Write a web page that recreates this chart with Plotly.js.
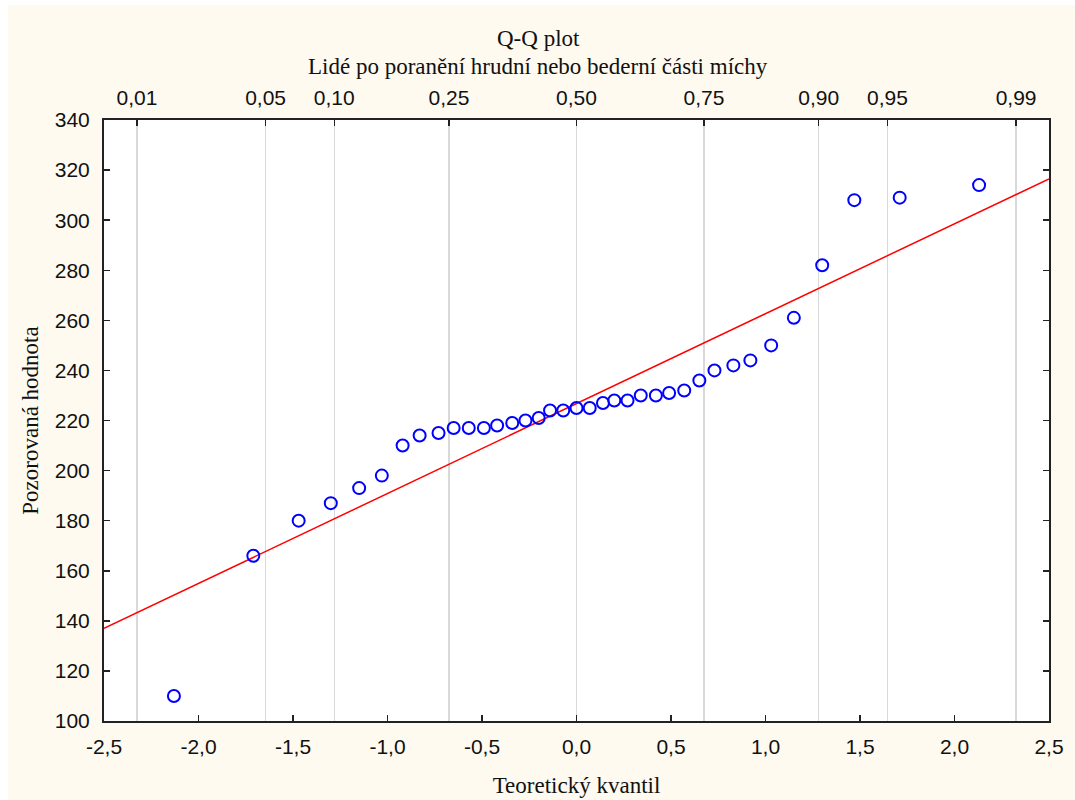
<!DOCTYPE html>
<html>
<head>
<meta charset="utf-8">
<script src="https://cdn.plot.ly/plotly-3.0.1.min.js"></script>
<style>
  html, body { margin: 0; padding: 0; background: #ffffff; }
  #chart { position: absolute; left: 8px; top: 5px; width: 1067px; height: 795px; }
</style>
</head>
<body>
<div id="chart"></div>
<script>
// Theoretical quantiles
const theoreticalQuantile = [-2.13, -1.71, -1.47, -1.30, -1.15, -1.03, -0.92, -0.83, -0.73, -0.65,
  -0.57, -0.49, -0.42, -0.34, -0.27, -0.20, -0.14, -0.07, 0.00, 0.07,
  0.14, 0.20, 0.27, 0.34, 0.42, 0.49, 0.57, 0.65, 0.73, 0.83,
  0.92, 1.03, 1.15, 1.30, 1.47, 1.71, 2.13];
// Observed values
const observedValue = [110, 166, 180, 187, 193, 198, 210, 214, 215, 217,
  217, 217, 218, 219, 220, 221, 224, 224, 225, 225,
  227, 228, 228, 230, 230, 231, 232, 236, 240, 242,
  244, 250, 261, 282, 308, 309, 314];
// Reference line end points
const lineX = [-2.5, 2.5];
const lineY = [137, 316.5];
// Top probability axis
const probTickVals = [-2.326, -1.645, -1.2816, -0.6745, 0, 0.6745, 1.2816, 1.645, 2.326];
const probTickText = ['0,01', '0,05', '0,10', '0,25', '0,50', '0,75', '0,90', '0,95', '0,99'];
// Bottom axis ticks
const xTickVals = [-2.5, -2.0, -1.5, -1.0, -0.5, 0.0, 0.5, 1.0, 1.5, 2.0, 2.5];
const xTickText = ['-2,5', '-2,0', '-1,5', '-1,0', '-0,5', '0,0', '0,5', '1,0', '1,5', '2,0', '2,5'];
const yTickVals = [100, 120, 140, 160, 180, 200, 220, 240, 260, 280, 300, 320, 340];

const sans = '"Liberation Sans", Arial, sans-serif';
const serif = '"Liberation Serif", "Times New Roman", serif';

const traces = [
  {
    x: lineX, y: lineY, type: 'scatter', mode: 'lines',
    line: { color: '#ff0000', width: 1.5 }, hoverinfo: 'skip', showlegend: false
  },
  {
    x: theoreticalQuantile, y: observedValue, type: 'scatter', mode: 'markers',
    marker: { symbol: 'circle-open', size: 12, color: '#0000ff', line: { width: 2, color: '#0000ff' } },
    showlegend: false
  },
  {
    x: [0], y: [null], xaxis: 'x2', yaxis: 'y', type: 'scatter', mode: 'markers',
    showlegend: false, hoverinfo: 'skip'
  }
];

const layout = {
  width: 1067, height: 795,
  paper_bgcolor: '#fefaf0',
  plot_bgcolor: '#ffffff',
  margin: { l: 96, r: 26, t: 115, b: 79 },
  showlegend: false,
  xaxis: {
    range: [-2.5, 2.5], tickmode: 'array', tickvals: xTickVals, ticktext: xTickText,
    ticks: 'inside', ticklen: 6, tickwidth: 1.5, tickcolor: '#222',
    showline: true, linecolor: '#222', linewidth: 2, mirror: false,
    showgrid: false, zeroline: false,
    tickfont: { family: sans, size: 21, color: '#111' },
    ticklabelstandoff: 6,
    title: { text: 'Teoretický kvantil', font: { family: serif, size: 23, color: '#111' }, standoff: 20 }
  },
  xaxis2: {
    overlaying: 'x', side: 'top', matches: 'x', range: [-2.5, 2.5],
    tickmode: 'array', tickvals: probTickVals, ticktext: probTickText,
    ticks: 'inside', ticklen: 6, tickwidth: 1.5, tickcolor: '#222',
    showline: true, linecolor: '#222', linewidth: 2,
    showgrid: true, gridcolor: '#d9d9d9', gridwidth: 1.5, zeroline: false,
    tickfont: { family: sans, size: 21, color: '#111' },
    ticklabelstandoff: 5
  },
  yaxis: {
    range: [100, 340], tickmode: 'array', tickvals: yTickVals,
    ticks: 'inside', ticklen: 6, tickwidth: 1.5, tickcolor: '#222',
    showline: true, linecolor: '#222', linewidth: 2, mirror: 'ticks',
    showgrid: false, zeroline: false,
    tickfont: { family: sans, size: 21, color: '#111' },
    ticklabelstandoff: 8,
    title: { text: 'Pozorovaná hodnota', font: { family: serif, size: 23, color: '#111' }, standoff: 10 }
  },
  annotations: [
    { text: 'Q-Q plot', xref: 'paper', yref: 'paper', x: 0.4593, y: 1, yshift: 82,
      xanchor: 'center', yanchor: 'middle', showarrow: false,
      font: { family: serif, size: 23, color: '#111' } },
    { text: 'Lidé po poranění hrudní nebo bederní části míchy', xref: 'paper', yref: 'paper',
      x: 0.4593, y: 1, yshift: 54, xanchor: 'center', yanchor: 'middle', showarrow: false,
      font: { family: serif, size: 23, color: '#111' } }
  ]
};

Plotly.newPlot('chart', traces, layout, { displayModeBar: false, staticPlot: true });
</script>
</body>
</html>
